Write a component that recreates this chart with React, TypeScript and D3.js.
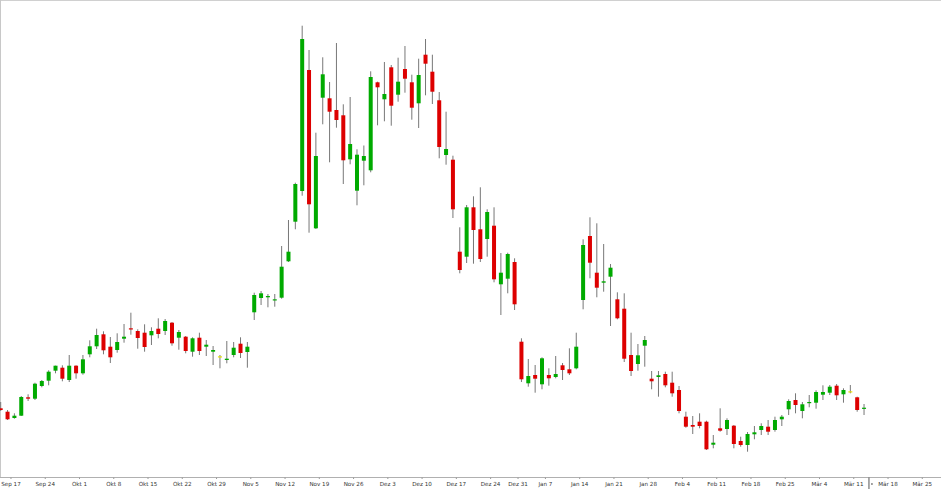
import React, { useEffect, useRef } from 'react';
import * as d3 from 'd3';

// week labels on the time axis (one per Monday)
const weekLabels = [
  'Sep 17', 'Sep 24', 'Okt 1', 'Okt 8', 'Okt 15', 'Okt 22', 'Okt 29', 'Nov 5', 'Nov 12', 'Nov 19',
  'Nov 26', 'Dez 3', 'Dez 10', 'Dez 17', 'Dez 24', 'Dez 31', 'Jan 7', 'Jan 14', 'Jan 21', 'Jan 28',
  'Feb 4', 'Feb 11', 'Feb 18', 'Feb 25', 'Mär 4', 'Mär 11', 'Mär 18', 'Mär 25',
];
// trading days in each labelled week
const weekDays = [5, 5, 5, 5, 5, 5, 5, 5, 5, 5, 5, 5, 5, 5, 4, 4, 5, 5, 5, 5, 5, 5, 5, 5, 5, 5, 5, 5];
// candles shown before the first labelled week
const leadDays = 2;

const opens = [7.17, 6.83, 6.20, 6.43, 8.27, 8.13, 9.40, 9.93, 10.93, 11.23,
  10.00, 11.43, 10.67, 12.57, 13.37, 14.57, 13.33, 13.00, 14.13, 15.17,
  14.90, 14.73, 14.47, 15.13, 14.90, 15.73, 14.23, 14.33, 12.83, 14.23,
  13.33, 12.83, 12.37, 12.00, 12.50, 13.63, 12.80, 16.77, 18.20, 18.27,
  17.97, 18.23, 21.87, 25.83, 28.90, 41.00, 25.17, 38.23, 38.17, 37.00,
  36.47, 32.07, 28.93, 31.93, 30.97, 39.77, 38.07, 41.27, 38.53, 41.10,
  39.77, 37.67, 42.53, 40.83, 37.97, 32.50, 32.03, 22.83, 22.33, 27.27,
  25.07, 24.10, 25.43, 19.57, 20.13, 21.80, 13.83, 9.67, 10.50, 9.57,
  10.50, 10.30, 11.47, 11.07, 11.17, 18.00, 24.40, 20.73, 19.73, 20.33,
  18.07, 17.13, 12.50, 11.60, 13.43, 10.13, 10.30, 10.60, 9.73, 9.00,
  6.33, 5.50, 5.83, 5.83, 3.53, 5.17, 5.10, 5.43, 3.90, 3.50,
  4.57, 5.00, 5.33, 5.00, 6.07, 7.07, 8.00, 6.90, 7.70, 7.73,
  8.53, 8.73, 9.43, 8.57, 8.87, 8.27, 7.13];

const highs = [7.80, 7.00, 6.67, 8.40, 8.57, 9.73, 10.00, 10.97, 11.43, 11.47,
  12.50, 11.47, 12.50, 13.97, 15.13, 14.87, 14.30, 14.67, 15.60, 16.73,
  15.07, 15.57, 15.27, 16.17, 16.10, 15.80, 15.00, 14.40, 14.27, 14.73,
  14.00, 13.40, 12.50, 13.90, 13.80, 14.27, 13.80, 18.73, 18.90, 18.60,
  18.60, 23.40, 26.00, 29.73, 45.43, 43.00, 34.73, 42.27, 39.80, 43.70,
  37.57, 38.30, 33.07, 33.45, 40.87, 39.83, 41.80, 41.50, 42.23, 43.40,
  40.53, 42.13, 44.10, 42.53, 38.80, 36.83, 32.43, 25.27, 27.50, 28.37,
  29.27, 27.07, 27.27, 22.70, 22.73, 22.17, 14.17, 12.10, 11.50, 12.27,
  11.17, 12.40, 11.70, 13.17, 14.73, 24.07, 26.27, 25.67, 23.60, 21.60,
  18.77, 18.67, 14.73, 13.60, 14.40, 10.90, 10.90, 10.83, 10.83, 9.40,
  6.83, 6.40, 6.67, 5.93, 4.50, 7.17, 6.17, 5.50, 4.33, 4.80,
  5.40, 5.67, 6.00, 6.33, 6.50, 8.07, 8.67, 7.80, 8.50, 8.97,
  9.47, 9.50, 9.60, 9.17, 9.50, 8.33, 7.60];

const lows = [6.90, 6.00, 6.13, 6.40, 7.90, 8.00, 9.27, 9.47, 10.67, 9.87,
  9.80, 10.13, 10.53, 12.27, 13.10, 12.57, 11.70, 12.73, 13.73, 14.53,
  13.13, 12.83, 13.50, 14.17, 14.50, 13.43, 13.03, 12.67, 12.33, 12.50,
  12.40, 11.50, 11.17, 11.67, 12.27, 12.20, 11.23, 16.00, 17.50, 17.27,
  17.33, 18.13, 21.80, 25.07, 28.43, 24.73, 25.10, 35.57, 31.77, 35.23,
  29.60, 31.57, 27.47, 29.47, 30.77, 35.47, 35.87, 35.43, 37.83, 38.73,
  36.03, 35.20, 38.47, 37.60, 32.17, 31.53, 26.20, 20.67, 21.70, 21.63,
  21.80, 22.33, 19.77, 16.50, 18.67, 17.00, 9.80, 9.33, 8.73, 9.07,
  9.43, 10.17, 10.00, 10.50, 11.07, 17.07, 20.17, 18.27, 18.83, 15.40,
  16.07, 11.80, 10.40, 10.93, 11.33, 9.07, 8.33, 9.27, 8.33, 6.67,
  5.23, 4.60, 5.17, 3.00, 3.17, 4.83, 4.50, 3.17, 3.33, 2.83,
  4.07, 4.50, 4.50, 4.83, 5.40, 6.50, 6.67, 6.17, 7.27, 7.13,
  8.00, 8.50, 8.00, 7.73, 8.67, 6.83, 6.50];

const closes = [7.00, 6.07, 6.43, 8.30, 8.13, 9.63, 9.90, 10.83, 11.43, 10.13,
  11.43, 10.67, 12.07, 13.37, 14.50, 12.97, 12.27, 13.80, 14.33, 15.10,
  14.20, 13.30, 14.90, 14.60, 15.90, 13.67, 14.80, 12.90, 14.17, 12.90,
  13.53, 13.00, 12.37, 12.13, 13.23, 12.70, 13.33, 18.50, 18.67, 18.40,
  18.07, 21.33, 22.83, 29.60, 44.10, 27.57, 32.40, 40.57, 36.83, 36.00,
  31.97, 33.60, 32.53, 32.40, 40.30, 39.27, 38.60, 37.43, 39.83, 40.13,
  37.23, 40.50, 41.63, 38.83, 33.30, 33.10, 27.07, 21.00, 27.27, 25.00,
  22.10, 26.80, 20.07, 20.73, 22.60, 17.57, 10.07, 10.40, 10.13, 12.17,
  10.17, 10.60, 11.00, 10.67, 13.33, 23.50, 21.73, 19.23, 19.87, 21.23,
  16.17, 12.13, 10.90, 12.47, 14.00, 9.87, 10.47, 9.47, 8.67, 6.90,
  5.33, 5.33, 5.40, 3.07, 3.73, 4.93, 6.00, 3.60, 3.50, 4.60,
  4.77, 5.40, 4.83, 6.00, 6.33, 7.90, 7.50, 7.57, 7.80, 8.80,
  8.80, 9.33, 8.47, 9.00, 8.87, 7.00, 7.23];

const W = 941;
const H = 489;
const axisY = 477.5;

const CandleChart: React.FC = () => {
  const svgRef = useRef<SVGSVGElement>(null);

  useEffect(() => {
    if (!svgRef.current) return;
    const svg = d3.select(svgRef.current);
    svg.selectAll('*').remove();

    const x = d3.scaleLinear().domain([0, 133]).range([0.7, 912.0]);
    const y = d3.scaleLinear().domain([0, 48]).range([480, 0]);

    // slot index of each week's first day
    const weekStart = weekDays.map((_, k) => leadDays + d3.sum(weekDays.slice(0, k)));

    svg.append('rect')
      .attr('x', 0).attr('y', 0).attr('width', W).attr('height', H)
      .attr('fill', '#fff');

    // frame
    svg.append('line').attr('x1', 0).attr('x2', W).attr('y1', 0.5).attr('y2', 0.5)
      .attr('stroke', '#d0d0d0');
    svg.append('line').attr('x1', 0.5).attr('x2', 0.5).attr('y1', 0).attr('y2', axisY)
      .attr('stroke', '#c8c8c8');
    svg.append('line').attr('x1', 0).attr('x2', W).attr('y1', axisY).attr('y2', axisY)
      .attr('stroke', '#b0b0b0');

    // candles
    const g = svg.append('g');
    const idx = d3.range(opens.length);
    const color = (i: number) =>
      closes[i] === opens[i] ? '#e8e000' : closes[i] > opens[i] ? '#00aa00' : '#dd0000';

    g.selectAll('.wick')
      .data(idx)
      .enter()
      .append('line')
      .attr('x1', i => x(i))
      .attr('x2', i => x(i))
      .attr('y1', i => y(highs[i]))
      .attr('y2', i => y(lows[i]))
      .attr('stroke', '#777')
      .attr('stroke-width', 1);

    g.selectAll('.body')
      .data(idx)
      .enter()
      .append('rect')
      .attr('x', i => x(i) - 2)
      .attr('width', 4)
      .attr('y', i => y(Math.max(opens[i], closes[i])))
      .attr('height', i => Math.max(1.2, Math.abs(y(opens[i]) - y(closes[i]))))
      .attr('fill', i => color(i));

    // time axis
    const ax = svg.append('g');
    weekLabels.forEach((lab, k) => {
      const tx = x(weekStart[k] - 0.5);
      ax.append('line')
        .attr('x1', tx).attr('x2', tx)
        .attr('y1', axisY).attr('y2', axisY + 1.5)
        .attr('stroke', '#999');
      const first = tx < 10;
      ax.append('text')
        .attr('x', first ? 1 : tx)
        .attr('y', 485.5)
        .attr('text-anchor', first ? 'start' : 'middle')
        .attr('font-family', '"DejaVu Sans", sans-serif')
        .attr('font-size', 5.6)
        .attr('fill', '#333')
        .text(lab);
    });

    // "now" separator after the last candle
    const nowX = x(opens.length - 0.5) + 1.5;
    ax.append('line')
      .attr('x1', nowX).attr('x2', nowX)
      .attr('y1', axisY).attr('y2', H)
      .attr('stroke', '#555');
    ax.append('circle')
      .attr('cx', nowX + 3).attr('cy', 484)
      .attr('r', 1)
      .attr('fill', '#888');
  }, []);

  return (
    <svg
      ref={svgRef}
      width={W}
      height={H}
      style={{ position: 'absolute', left: 0, top: 0, display: 'block' }}
    />
  );
};

export default function App() {
  return <CandleChart />;
}
